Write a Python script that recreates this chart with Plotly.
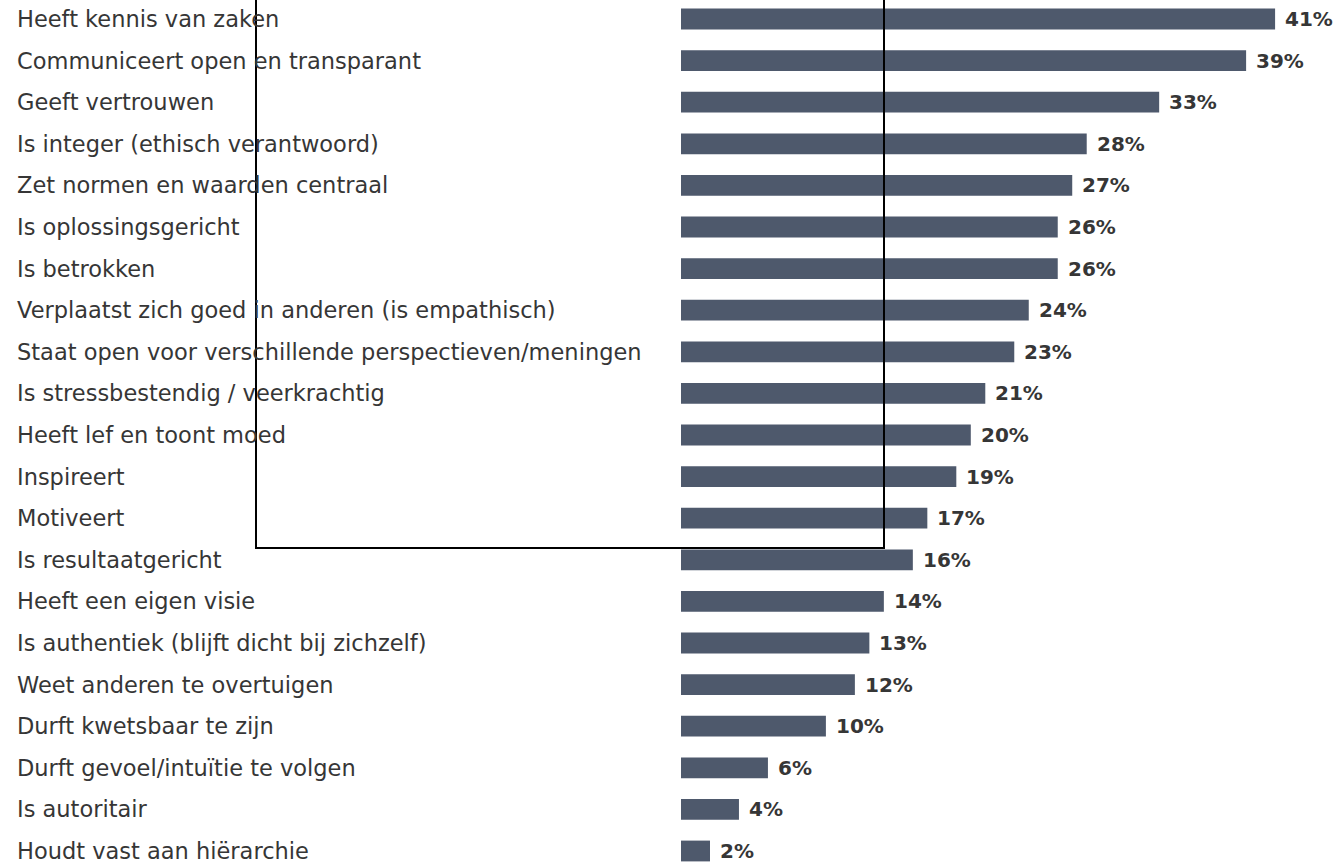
import plotly.graph_objects as go

categories = [
    "Heeft kennis van zaken",
    "Communiceert open en transparant",
    "Geeft vertrouwen",
    "Is integer (ethisch verantwoord)",
    "Zet normen en waarden centraal",
    "Is oplossingsgericht",
    "Is betrokken",
    "Verplaatst zich goed in anderen (is empathisch)",
    "Staat open voor verschillende perspectieven/meningen",
    "Is stressbestendig / veerkrachtig",
    "Heeft lef en toont moed",
    "Inspireert",
    "Motiveert",
    "Is resultaatgericht",
    "Heeft een eigen visie",
    "Is authentiek (blijft dicht bij zichzelf)",
    "Weet anderen te overtuigen",
    "Durft kwetsbaar te zijn",
    "Durft gevoel/intuïtie te volgen",
    "Is autoritair",
    "Houdt vast aan hiërarchie",
]
values = [41, 39, 33, 28, 27, 26, 26, 24, 23, 21, 20, 19, 17, 16, 14, 13, 12, 10, 6, 4, 2]

W, H = 1340, 865
LEFT = 681            # pixel where the bars start
PLOT_W = W - LEFT
PX_PER_PCT = 14.49
ROW_PX = 41.6
FIRST_ROW_Y = 19

BAR_COLOR = "#4e596c"
TEXT_COLOR = "#363636"
FONT = "DejaVu Sans"

fig = go.Figure()
fig.add_trace(go.Bar(
    x=values,
    y=list(range(len(categories))),
    orientation="h",
    width=0.5,
    marker=dict(color=BAR_COLOR, line=dict(width=0)),
    hoverinfo="skip",
))

# value labels just right of each bar
for i, v in enumerate(values):
    fig.add_annotation(
        x=v, y=i, xref="x", yref="y",
        text=f"{v}%", showarrow=False,
        xanchor="left", yanchor="middle", xshift=8,
        font=dict(family=FONT, size=20, color=TEXT_COLOR, weight="bold"),
    )

# category labels, left aligned at the page edge
for i, c in enumerate(categories):
    fig.add_annotation(
        x=(15 - LEFT) / PLOT_W, y=i, xref="paper", yref="y",
        text=c, showarrow=False,
        xanchor="left", yanchor="middle",
        font=dict(family=FONT, size=22.5, color=TEXT_COLOR),
    )

# highlight frame
fig.add_shape(
    type="rect", xref="paper", yref="paper",
    x0=(256 - LEFT) / PLOT_W, x1=(884 - LEFT) / PLOT_W,
    y0=1 - 548 / H, y1=1.05,
    line=dict(color="black", width=2), fillcolor="rgba(0,0,0,0)",
    layer="above",
)

n = len(categories)
top_idx = -FIRST_ROW_Y / ROW_PX
bottom_idx = (n - 1) + (H - (FIRST_ROW_Y + (n - 1) * ROW_PX)) / ROW_PX

fig.update_layout(
    width=W, height=H,
    margin=dict(l=LEFT, r=0, t=0, b=0),
    paper_bgcolor="white", plot_bgcolor="white",
    showlegend=False,
    xaxis=dict(range=[0, PLOT_W / PX_PER_PCT], visible=False, fixedrange=True),
    yaxis=dict(range=[bottom_idx, top_idx], visible=False, fixedrange=True),
)

fig.write_html("out.html", config={"displayModeBar": False})
